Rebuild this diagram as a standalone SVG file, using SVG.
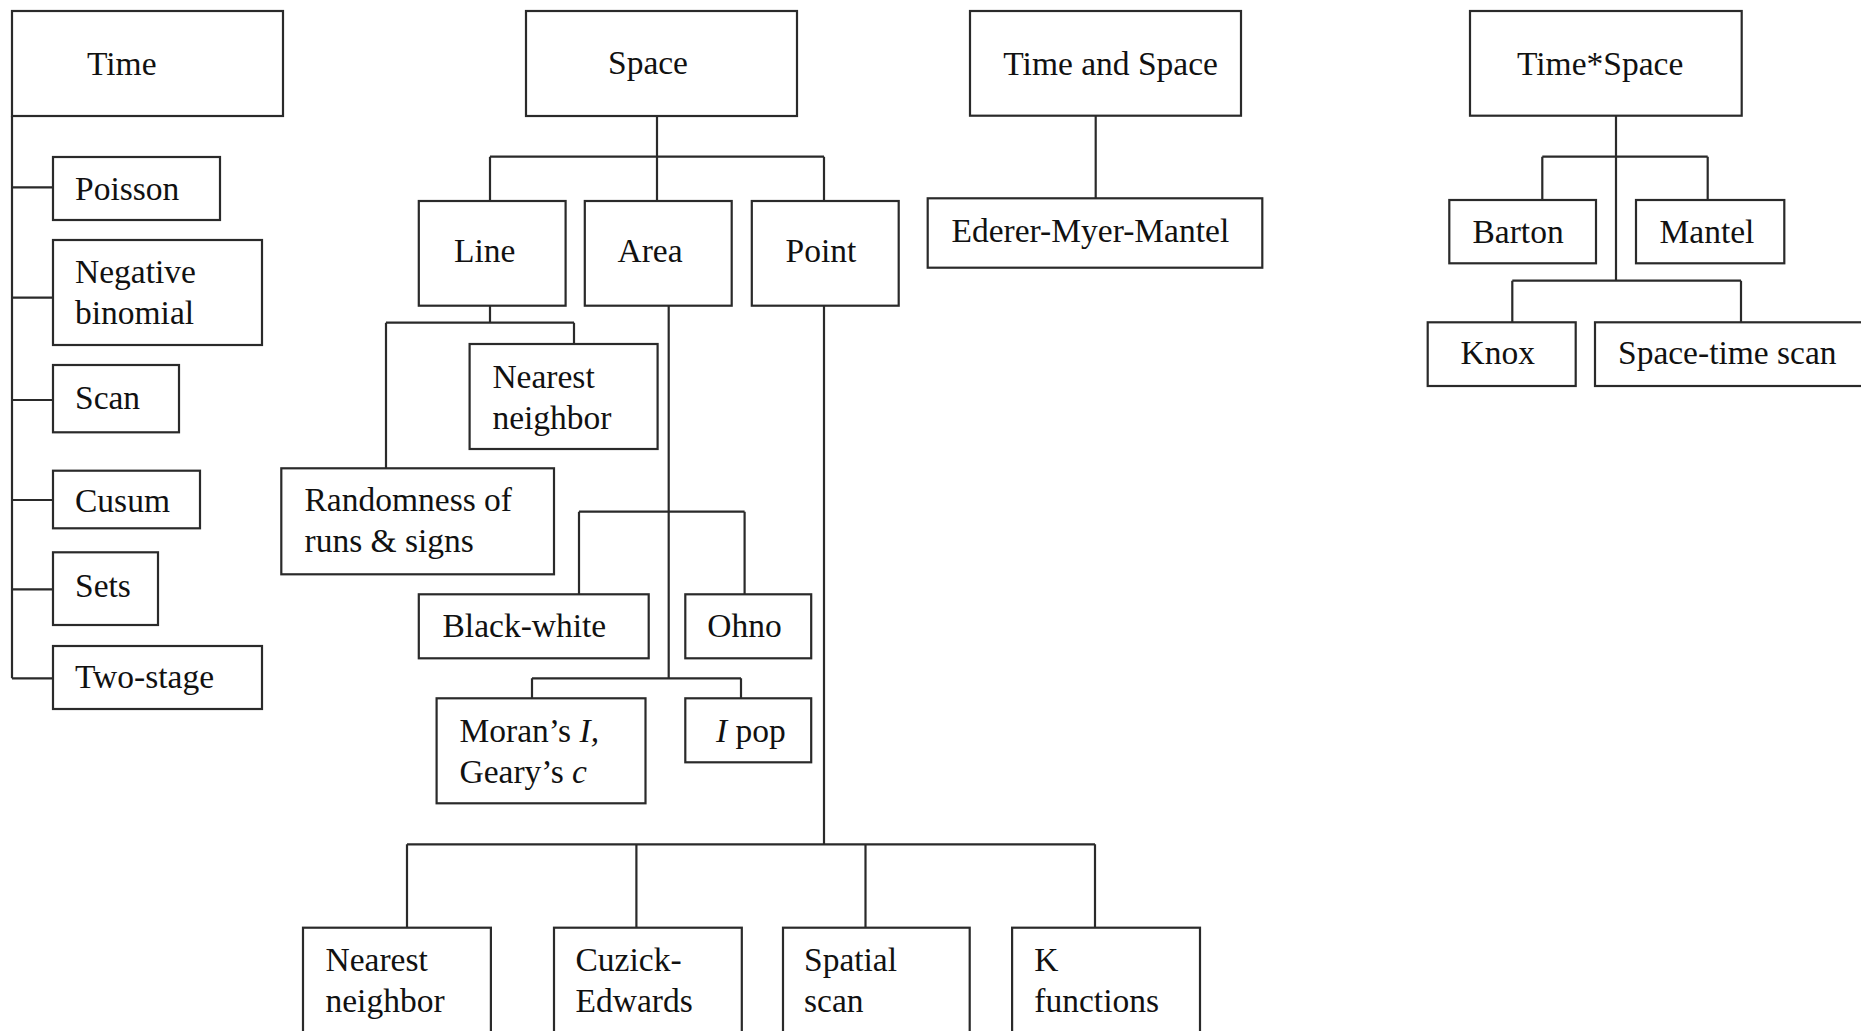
<svg xmlns="http://www.w3.org/2000/svg" width="1861" height="1031" viewBox="0 0 1861 1031">
<style>
.box{fill:#fff;stroke:#2a2a2a;stroke-width:2.2}
.c{fill:none;stroke:#2a2a2a;stroke-width:2.2}
text{font-family:"Liberation Serif","Times New Roman",serif;font-size:33.5px;fill:#111}
.i{font-style:italic}
</style>
<rect width="1861" height="1031" fill="#fff"/>
<g id="connectors">
<path class="c" d="M12,116 V678.3 M12,187.3 H53 M12,297.7 H53 M12,400 H53 M12,500 H53 M12,589.3 H53 M12,678.3 H53"/>
<path class="c" d="M657,116 V201 M490,156.7 H824 M490,156.7 V201 M824,156.7 V201"/>
<path class="c" d="M490,306 V322.7 M386,322.7 H574 M386,322.7 V468.3 M574,322.7 V344"/>
<path class="c" d="M668.7,306 V678.3 M579,511.7 H744.6 M579,511.7 V594.3 M744.6,511.7 V594.3 M532,678.3 H741 M532,678.3 V698.3 M741,678.3 V698.3"/>
<path class="c" d="M824,306 V844.3 M407,844.3 H1095 M407,844.3 V927.7 M636.4,844.3 V927.7 M865.5,844.3 V927.7 M1095,844.3 V927.7"/>
<path class="c" d="M1095.7,116 V198.3"/>
<path class="c" d="M1616,116 V280.7 M1542.3,156.7 H1707.7 M1542.3,156.7 V200 M1707.7,156.7 V200 M1512.3,280.7 H1741 M1512.3,280.7 V322.3 M1741,280.7 V322.3"/>
</g>
<g id="time"><rect class="box" x="12" y="11" width="271" height="105"/><text x="87" y="75">Time</text></g>
<g id="poisson"><rect class="box" x="53" y="157" width="167" height="63"/><text x="75" y="200">Poisson</text></g>
<g id="negbin"><rect class="box" x="53" y="240" width="209" height="105"/><text x="75" y="283.3">Negative</text><text x="75" y="324">binomial</text></g>
<g id="scan"><rect class="box" x="53" y="365" width="126" height="67.3"/><text x="75" y="409">Scan</text></g>
<g id="cusum"><rect class="box" x="53" y="470.7" width="147" height="57.6"/><text x="75" y="512.3">Cusum</text></g>
<g id="sets"><rect class="box" x="53" y="552.3" width="105" height="72.7"/><text x="75" y="596.7">Sets</text></g>
<g id="twostage"><rect class="box" x="53" y="646" width="209" height="63"/><text x="75" y="688.3">Two-stage</text></g>
<g id="space"><rect class="box" x="526" y="11" width="271" height="105"/><text x="608" y="74">Space</text></g>
<g id="line"><rect class="box" x="418.8" y="201" width="146.8" height="104.7"/><text x="454" y="262.3">Line</text></g>
<g id="area"><rect class="box" x="584.8" y="201" width="146.9" height="104.7"/><text x="617.5" y="262.3">Area</text></g>
<g id="point"><rect class="box" x="751.8" y="201" width="146.9" height="104.7"/><text x="785.5" y="262.3">Point</text></g>
<g id="line-nn"><rect class="box" x="469.6" y="344" width="188" height="105"/><text x="492.4" y="388.3">Nearest</text><text x="492.4" y="428.8">neighbor</text></g>
<g id="randomness"><rect class="box" x="281.3" y="468.3" width="272.7" height="106"/><text x="304.5" y="511">Randomness of</text><text x="304.5" y="552">runs &amp; signs</text></g>
<g id="blackwhite"><rect class="box" x="418.8" y="594.3" width="229.9" height="64"/><text x="442.5" y="636.5">Black-white</text></g>
<g id="ohno"><rect class="box" x="685.3" y="594.3" width="125.9" height="64"/><text x="707.3" y="636.5">Ohno</text></g>
<g id="moran"><rect class="box" x="436.6" y="698.3" width="208.9" height="105"/><text x="459.5" y="741.5">Moran’s <tspan class="i">I,</tspan></text><text x="459.5" y="783">Geary’s <tspan class="i">c</tspan></text></g>
<g id="ipop"><rect class="box" x="685.3" y="698.3" width="125.9" height="64"/><text x="716" y="741.5"><tspan class="i">I</tspan> pop</text></g>
<g id="pt-nn"><rect class="box" x="303" y="927.7" width="187.9" height="120"/><text x="325.5" y="971">Nearest</text><text x="325.5" y="1011.5">neighbor</text></g>
<g id="cuzick"><rect class="box" x="554" y="927.7" width="187.8" height="120"/><text x="575.5" y="971">Cuzick-</text><text x="575.5" y="1011.5">Edwards</text></g>
<g id="spatialscan"><rect class="box" x="783" y="927.7" width="186.7" height="120"/><text x="804" y="971">Spatial</text><text x="804" y="1011.5">scan</text></g>
<g id="kfunc"><rect class="box" x="1012.1" y="927.7" width="187.9" height="120"/><text x="1034.3" y="971">K</text><text x="1034.3" y="1011.5">functions</text></g>
<g id="timeandspace"><rect class="box" x="970" y="11" width="271" height="104.7"/><text x="1003.3" y="75">Time and Space</text></g>
<g id="emm"><rect class="box" x="927.7" y="198.3" width="334.6" height="69.4"/><text x="951.5" y="242">Ederer-Myer-Mantel</text></g>
<g id="timexspace"><rect class="box" x="1470" y="11" width="271.7" height="104.7"/><text x="1517" y="75">Time*Space</text></g>
<g id="barton"><rect class="box" x="1449.3" y="200" width="146.7" height="63.3"/><text x="1472.5" y="243">Barton</text></g>
<g id="mantel"><rect class="box" x="1636" y="200" width="148.3" height="63.3"/><text x="1659.5" y="243">Mantel</text></g>
<g id="knox"><rect class="box" x="1427.7" y="322.3" width="148" height="63.7"/><text x="1460.5" y="364">Knox</text></g>
<g id="stscan"><rect class="box" x="1595" y="322.3" width="290" height="63.7"/><text x="1618" y="364">Space-time scan</text></g>
</svg>
